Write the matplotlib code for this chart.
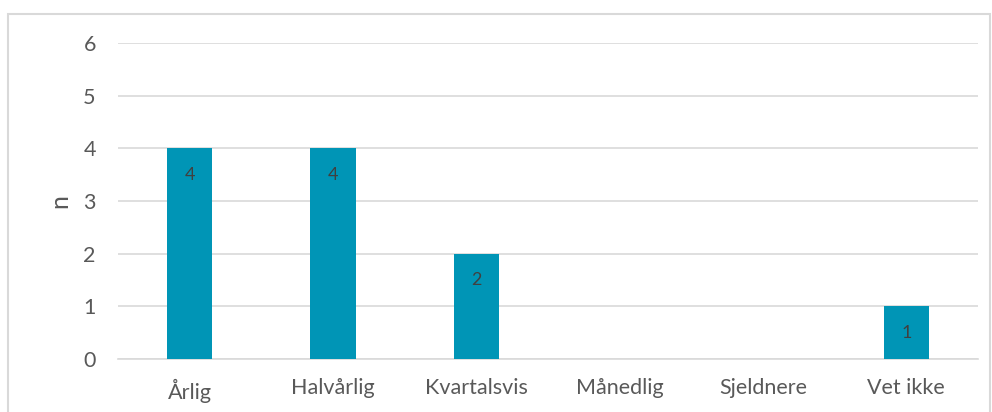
import matplotlib.pyplot as plt
from matplotlib.patches import Rectangle

# Dados
kategorier = ["Årlig", "Halvårlig", "Kvartalsvis", "Månedlig", "Sjeldnere", "Vet ikke"]
antall = [4, 4, 2, 0, 0, 1]
y_ticks = [0, 1, 2, 3, 4, 5, 6]

plt.rcParams['font.family'] = ['Lato', 'DejaVu Sans']

fig = plt.figure(figsize=(9.92, 4.12), dpi=100)
ax = fig.add_axes([118 / 992, 1 - 359 / 412, 860 / 992, 316 / 412])

# ramme rundt figuren
fig.patches.append(Rectangle((8 / 992, -0.05), 982 / 992, 1 - 14 / 412 + 0.05,
                             transform=fig.transFigure, fill=False,
                             edgecolor='#d9d9d9', linewidth=1.5))

x = range(len(kategorier))
bars = ax.bar(x, antall, width=0.314, color='#0095b6', zorder=3)

for b, v in zip(bars, antall):
    if v > 0:
        ax.text(b.get_x() + b.get_width() / 2, v - 0.5, str(v),
                ha='center', va='center', fontsize=13, color='#404040', zorder=4)

ax.set_xlim(-0.5, len(kategorier) - 0.5)
ax.set_ylim(0, 6)
ax.set_yticks(y_ticks)
ax.set_xticks(list(x))
ax.set_xticklabels(kategorier)
ax.tick_params(axis='both', length=0, labelsize=15.5, colors='#595959')
ax.tick_params(axis='y', pad=16)
ax.tick_params(axis='x', pad=14)
ax.grid(axis='y', color='#d9d9d9', linewidth=1.2, zorder=0)
for s in ['top', 'right', 'left']:
    ax.spines[s].set_visible(False)
ax.spines['bottom'].set_color('#d9d9d9')
ax.spines['bottom'].set_linewidth(1.2)

ax.set_ylabel("n", fontsize=18, color='#595959', labelpad=9)

fig.savefig("out.png", dpi=100)
